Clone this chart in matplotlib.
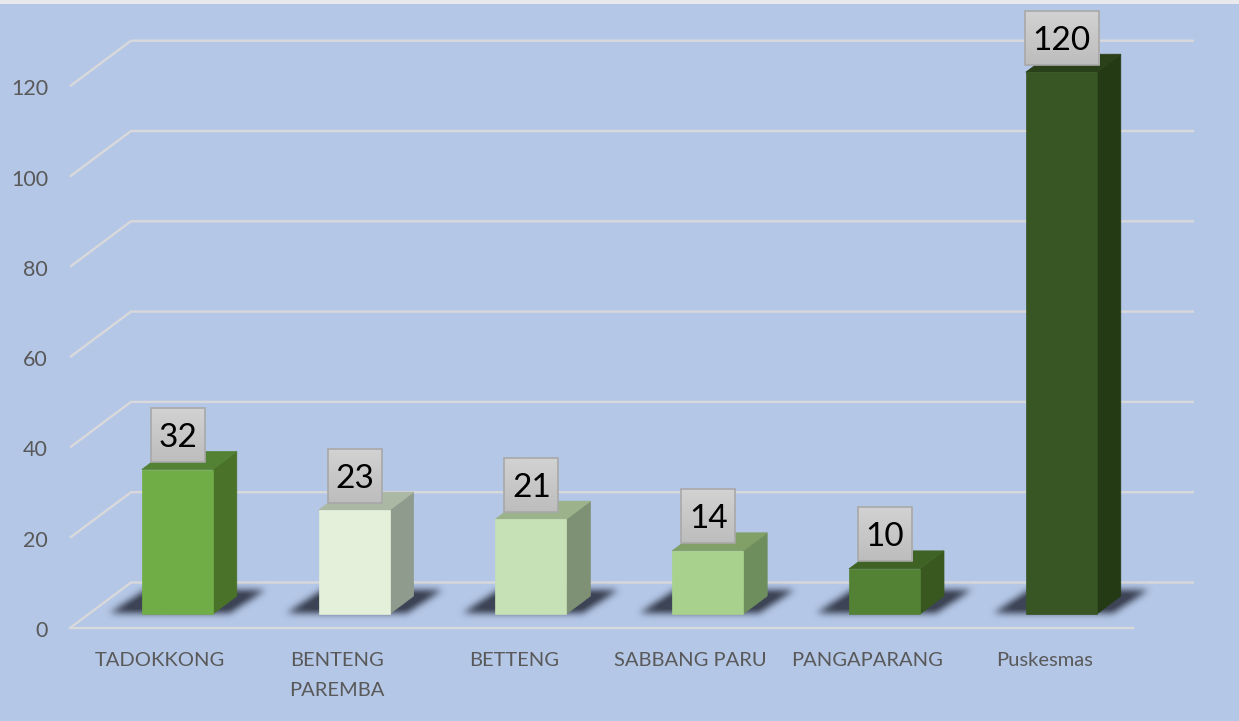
import matplotlib
matplotlib.use('Agg')
import matplotlib.pyplot as plt
import numpy as np
from matplotlib.patches import Polygon

categories = ['TADOKKONG','BENTENG\nPAREMBA','BETTENG','SABBANG PARU','PANGAPARANG','Puskesmas']
values = [32,23,21,14,10,120]
y_ticks = [0,20,40,60,80,100,120]

front_colors = ['#70AD47','#E4F0D9','#C6E1B5','#A9D18E','#548235','#375623']
side_colors = ['#4B7229','#8F9B8C','#7F9175','#6F8E5E','#38581F','#243A15']
top_colors = ['#548235','#ABB8A4','#9BB28B','#80A068','#3E6324','#2A4018']

# pixel scale of the picture
W,H = 1239,721
px_x = 176.8       # pixels per category
px_y = 4.515       # pixels per unit
x0_px = 177.3      # px of first category
y0_px = 628.0      # px of value 0 on the front floor edge

BG = '#B4C7E7'
GRID = '#D9D9DB'
TXT = '#595959'

def dx(p):
    return p/px_x
def dy(p):
    return p/px_y

def shadow_image(width,pad=14,height=22,skew=34,sigma=3.5):
    """blurred parallelogram, one pixel per array cell, row 0 = bottom"""
    nx = int(width+skew+2*pad)
    ny = int(height+2*pad)
    yy,xx = np.mgrid[0:ny,0:nx]
    frac = (yy-pad)/height
    m = ((yy>=pad)&(yy<=pad+height)&(xx>=pad+frac*skew)&(xx<=pad+width+frac*skew)).astype(float)
    r = np.arange(-10,11)
    k = np.exp(-r**2/(2*sigma**2))
    k = k/k.sum()
    m = np.apply_along_axis(lambda c: np.convolve(c,k,mode='same'),0,m)
    m = np.apply_along_axis(lambda c: np.convolve(c,k,mode='same'),1,m)
    rgba = np.zeros((ny,nx,4))
    rgba[...,:3] = matplotlib.colors.to_rgb('#363D4E')
    rgba[...,3] = np.clip(m*1.05,0,0.95)
    return rgba,nx,ny,pad

fig = plt.figure(figsize=(W/100,H/100),dpi=100,facecolor=BG)
ax = fig.add_axes([0,0,1,1])
ax.set_xlim(-x0_px/px_x,(W-x0_px)/px_x)
ax.set_ylim((y0_px-H)/px_y,y0_px/px_y)
ax.set_facecolor(BG)
ax.axis('off')

# light strip along the top of the picture
ax.axhspan(dy(y0_px-4),dy(y0_px),color='#E8E9EC',lw=0,zorder=1)

# grid lines, front edge -> back wall
left = -x0_px/px_x+dx(70)
right = left+dx(1063)
back_x = dx(61)
back_y = dy(45.5)
for t in y_ticks:
    ax.plot([left,left+back_x,right+back_x],[t,t+back_y,t+back_y],color=GRID,lw=1.7,zorder=2,solid_capstyle='butt')
ax.plot([left,right],[0,0],color=GRID,lw=1.7,zorder=2)

for t in y_ticks:
    ax.text(left-dx(22),t-dy(1),str(t),ha='right',va='center_baseline',color=TXT,fontsize=15.5,family='Lato',zorder=6)

# bars
half = dx(35.5)
depth_x = dx(24)
depth_y = dy(18)
base = dy(14)
shadow,sh_nx,sh_ny,sh_pad = shadow_image(71+48)
for i,(name,v) in enumerate(zip(categories,values)):
    l,r = i-half,i+half
    b,t = base,v+base

    # blurred floor shadow
    sx = l-dx(32)-dx(sh_pad)
    sy = b+dy(1)-dy(sh_pad)
    ax.imshow(shadow,extent=[sx,sx+dx(sh_nx),sy,sy+dy(sh_ny)],origin='lower',aspect='auto',interpolation='bilinear',zorder=3)

    ax.add_patch(Polygon([[r,b],[r+depth_x,b+depth_y],[r+depth_x,t+depth_y],[r,t]],fc=side_colors[i],ec=side_colors[i],lw=0.5,zorder=4))
    ax.add_patch(Polygon([[l,t],[l+depth_x,t+depth_y],[r+depth_x,t+depth_y],[r,t]],fc=top_colors[i],ec=top_colors[i],lw=0.5,zorder=4))
    ax.add_patch(Polygon([[l,b],[r,b],[r,t],[l,t]],fc=front_colors[i],ec=front_colors[i],lw=0.5,zorder=5))

    # value label box with grey gradient
    bw = dx(37) if v>=100 else dx(27)
    x1,x2 = i-bw+dx(0.5),i+bw+dx(0.5)
    y1,y2 = t+dy(7.5),t+dy(61.5)
    grad = np.linspace(0,1,32).reshape(-1,1)
    ax.imshow(grad,extent=[x1,x2,y1,y2],origin='lower',aspect='auto',cmap=matplotlib.colors.LinearSegmentedColormap.from_list('g',['#BDBDBD','#D2D2D2']),zorder=7)
    ax.add_patch(Polygon([[x1,y1],[x2,y1],[x2,y2],[x1,y2]],fc='none',ec='#A8A8A8',lw=1.2,zorder=8))
    ax.text((x1+x2)/2,(y1+y2)/2,str(v),ha='center',va='center_baseline',color='black',fontsize=24,family='Lato',zorder=9)

    # category label
    ax.text(i-dx(17),dy(y0_px-652),name,ha='center',va='top',color=TXT,fontsize=14.5,family='Lato',linespacing=1.9,zorder=6)

ax.set_xlim(-x0_px/px_x,(W-x0_px)/px_x)
ax.set_ylim((y0_px-H)/px_y,y0_px/px_y)
fig.savefig('out.png',dpi=100,facecolor=BG)
